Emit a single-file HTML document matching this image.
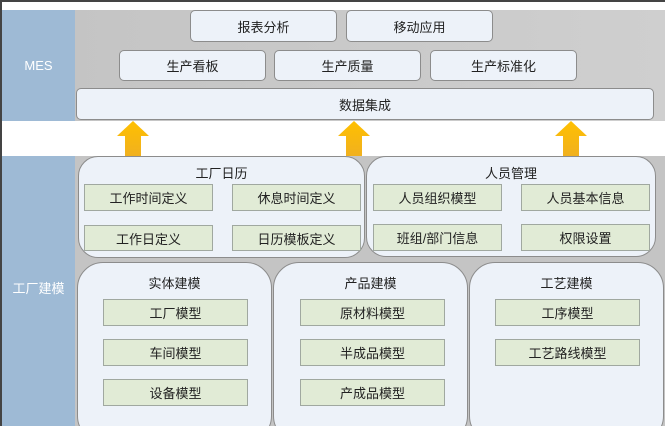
<!DOCTYPE html>
<html><head><meta charset="utf-8"><style>
*{margin:0;padding:0;box-sizing:border-box}
html,body{width:665px;height:426px;overflow:hidden;background:#fff}
#w{position:relative;width:665px;height:426px;overflow:hidden;font-family:"Liberation Sans","Noto Sans CJK SC",sans-serif;font-size:13px;color:#222}
.a{position:absolute}
.c{display:flex;align-items:center;justify-content:center}
.bx{background:#edf2f9;border:1px solid #8c8c8c;border-radius:5px}
.g{background:#e1ebd6;border:1px solid #a0a8a0}
.big{background:#edf2f9;border:1px solid #8c8c8c}
.lab{color:#fff;font-size:13px}
</style></head><body><div id="w">
<div class="a" style="left:0;top:0;width:665px;height:2px;background:#444"></div>
<div class="a" style="left:0;top:0;width:2px;height:426px;background:#444"></div>
<div class="a" style="left:2px;top:10px;width:663px;height:111px;background:linear-gradient(to right,#c3c3c3,#cfcfcf)"></div>
<div class="a c lab" style="left:2px;top:10px;width:73px;height:111px;background:#9ebad5">MES</div>
<div class="a c bx" style="left:190px;top:10px;width:147px;height:32px">报表分析</div>
<div class="a c bx" style="left:346px;top:10px;width:147px;height:32px">移动应用</div>
<div class="a c bx" style="left:119px;top:50px;width:147px;height:31px">生产看板</div>
<div class="a c bx" style="left:274px;top:50px;width:147px;height:31px">生产质量</div>
<div class="a c bx" style="left:430px;top:50px;width:147px;height:31px">生产标准化</div>
<div class="a c bx" style="left:76px;top:88px;width:578px;height:32px">数据集成</div>
<svg class="a" style="left:0;top:121px" width="665" height="36">
<defs><linearGradient id="ar" x1="0" y1="0" x2="0" y2="1"><stop offset="0" stop-color="#ffc000"/><stop offset="1" stop-color="#f0b020"/></linearGradient></defs>
<g fill="url(#ar)">
<polygon points="133,0 149,15 141,15 141,36 125,36 125,15 117,15"/>
<polygon points="354,0 370,15 362,15 362,36 346,36 346,15 338,15"/>
<polygon points="571,0 587,15 579,15 579,36 563,36 563,15 555,15"/>
</g></svg>
<div class="a" style="left:2px;top:156px;width:663px;height:270px;background:#c4c4c4"></div>
<div class="a c lab" style="left:2px;top:156px;width:73px;height:270px;background:#9ebad5;padding-bottom:8px">工厂建模</div>
<div class="a big" style="left:78px;top:156px;width:287px;height:102px;border-radius:20px"></div>
<div class="a c" style="left:78px;top:162px;width:287px;height:20px">工厂日历</div>
<div class="a c g" style="left:84px;top:184px;width:129px;height:27px">工作时间定义</div>
<div class="a c g" style="left:232px;top:184px;width:129px;height:27px">休息时间定义</div>
<div class="a c g" style="left:84px;top:225px;width:129px;height:26px">工作日定义</div>
<div class="a c g" style="left:232px;top:225px;width:129px;height:26px">日历模板定义</div>
<div class="a big" style="left:366px;top:156px;width:290px;height:101px;border-radius:20px"></div>
<div class="a c" style="left:366px;top:162px;width:290px;height:20px">人员管理</div>
<div class="a c g" style="left:373px;top:184px;width:129px;height:27px">人员组织模型</div>
<div class="a c g" style="left:521px;top:184px;width:129px;height:27px">人员基本信息</div>
<div class="a c g" style="left:373px;top:224px;width:129px;height:27px">班组/部门信息</div>
<div class="a c g" style="left:521px;top:224px;width:129px;height:27px">权限设置</div>
<div class="a big" style="left:77px;top:262px;width:195px;height:180px;border-radius:26px"></div>
<div class="a big" style="left:273px;top:262px;width:195px;height:180px;border-radius:26px"></div>
<div class="a big" style="left:469px;top:262px;width:195px;height:180px;border-radius:26px"></div>
<div class="a c" style="left:77px;top:272px;width:195px;height:20px">实体建模</div>
<div class="a c" style="left:273px;top:272px;width:195px;height:20px">产品建模</div>
<div class="a c" style="left:469px;top:272px;width:195px;height:20px">工艺建模</div>
<div class="a c g" style="left:103px;top:299px;width:145px;height:27px">工厂模型</div>
<div class="a c g" style="left:103px;top:339px;width:145px;height:27px">车间模型</div>
<div class="a c g" style="left:103px;top:379px;width:145px;height:27px">设备模型</div>
<div class="a c g" style="left:300px;top:299px;width:145px;height:27px">原材料模型</div>
<div class="a c g" style="left:300px;top:339px;width:145px;height:27px">半成品模型</div>
<div class="a c g" style="left:300px;top:379px;width:145px;height:27px">产成品模型</div>
<div class="a c g" style="left:495px;top:299px;width:145px;height:27px">工序模型</div>
<div class="a c g" style="left:495px;top:339px;width:145px;height:27px">工艺路线模型</div>
</div></body></html>
